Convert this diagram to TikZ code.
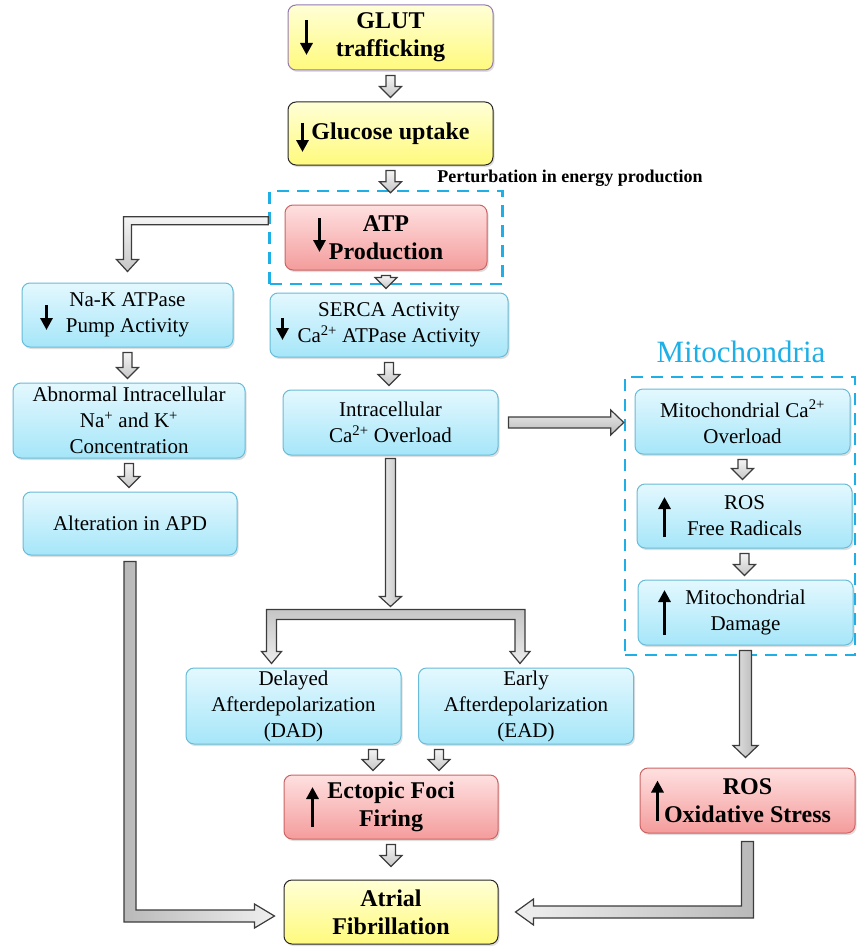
\documentclass[tikz,border=0pt]{standalone}
\usepackage{fontspec}
\setmainfont{Liberation Serif}
\usetikzlibrary{arrows.meta,calc,fit,shadows}

\definecolor{cyantop}{RGB}{228,248,254}
\definecolor{cyanbot}{RGB}{165,230,249}
\definecolor{cyanedge}{RGB}{104,188,216}
\definecolor{redtop}{RGB}{255,224,224}
\definecolor{redbot}{RGB}{244,156,156}
\definecolor{rededge}{RGB}{205,100,100}
\definecolor{yellowtop}{RGB}{255,255,214}
\definecolor{yellowbot}{RGB}{255,250,125}
\definecolor{yellowedge}{RGB}{40,40,40}
\definecolor{glutedge}{RGB}{150,120,180}
\definecolor{zoneblue}{RGB}{30,175,230}
\definecolor{arrowedge}{RGB}{60,60,60}

\newcommand{\regtext}{\fontsize{21}{26}\selectfont}
\newcommand{\boldtext}{\fontsize{24}{28}\selectfont\bfseries}

% small hollow arrow straight down, x taken from #1
\newcommand{\smalldown}[2]{%
  \path[blockarrow] let \p1=(#1), \p2=(#2) in
    (\x1-4.5pt,\y1-5pt) -- (\x1+4.5pt,\y1-5pt) -- (\x1+4.5pt,\y2+15pt)
    -- (\x1+11pt,\y2+15pt) -- (\x1,\y2+4pt) -- (\x1-11pt,\y2+15pt)
    -- (\x1-4.5pt,\y2+15pt) -- cycle;}

% wide hollow arrow straight down
\newcommand{\bigdown}[2]{%
  \path[blockarrow, left color=gray!20, right color=gray!60] let \p1=(#1), \p2=(#2) in
    (\x1-6pt,\y1-5pt) -- (\x1+6pt,\y1-5pt) -- (\x1+6pt,\y2+22pt)
    -- (\x1+12.5pt,\y2+22pt) -- (\x1,\y2+10pt) -- (\x1-12.5pt,\y2+22pt)
    -- (\x1-6pt,\y2+22pt) -- cycle;}

\begin{document}
\begin{tikzpicture}[
        x=1pt, y=-1pt,
        boxsize/.style 2 args={minimum width=#1pt, minimum height=#2pt},
        basebox/.style={rounded corners=8pt, line width=1pt, inner sep=0pt, align=center,
            drop shadow={opacity=0.25, shadow xshift=1.5pt, shadow yshift=-2pt}},
        cyanbox/.style={basebox, draw=cyanedge, top color=cyantop, bottom color=cyanbot, font=\regtext},
        redbox/.style={basebox, draw=rededge, top color=redtop, bottom color=redbot, font=\boldtext},
        yellowbox/.style={basebox, draw=yellowedge, top color=yellowtop, bottom color=yellowbot, font=\boldtext},
        zone/.style={draw=zoneblue, line width=2.5pt, dash pattern=on 12pt off 8pt, rectangle},
        blockarrow/.style={draw=arrowedge, line width=1.2pt, top color=gray!8, bottom color=gray!45},
        blockarrowh/.style={draw=arrowedge, line width=1.2pt, top color=gray!15, bottom color=gray!55},
        markarrow/.style={line width=3pt, -{Triangle[length=12pt,width=12pt]}},
    ]
    \useasboundingbox (0,0) rectangle (857,947);

    % central column
    \node[yellowbox, draw=glutedge, boxsize={205}{65}] (glut) at (390.5,37.5) {GLUT\\trafficking};
    \node[yellowbox, boxsize={205}{63}] (glucose) at (390.5,133.5) {Glucose uptake};
    \node[font=\fontsize{18}{20}\selectfont\bfseries] (perturb) at (570,178) {Perturbation in energy production};
    \node[redbox, boxsize={202}{65}] (atp) at (386,237.5) {ATP\\Production};
    \node[zone, fit=(atp), inner xsep=15pt, inner ysep=13.5pt] (atpzone) {};
    \node[cyanbox, boxsize={238}{64}] (serca) at (389,325) {SERCA Activity\\Ca\textsuperscript{2+} ATPase Activity};
    \node[cyanbox, boxsize={215}{65}] (intra) at (390.5,422.5) {Intracellular\\Ca\textsuperscript{2+} Overload};
    \node[cyanbox, boxsize={215}{76}] (dad) at (293.5,706) {Delayed\\Afterdepolarization\\(DAD)};
    \node[cyanbox, boxsize={215}{76}] (ead) at (526,706) {Early\\Afterdepolarization\\(EAD)};
    \node[redbox, boxsize={214}{64}] (ectopic) at (391,807) {Ectopic Foci\\Firing};
    \node[yellowbox, boxsize={214}{64}] (atrial) at (391,912) {Atrial\\Fibrillation};

    % left column
    \node[cyanbox, boxsize={211}{64}] (nak) at (127.5,315) {Na-K ATPase\\Pump Activity};
    \node[cyanbox, boxsize={232}{75}] (abnormal) at (129,420.5) {Abnormal Intracellular\\Na\textsuperscript{+} and K\textsuperscript{+}\\Concentration};
    \node[cyanbox, boxsize={214}{63}] (apd) at (130,523.5) {Alteration in APD};

    % mitochondria column
    \node[text=zoneblue, font=\fontsize{31}{36}\selectfont] (mitotitle) at (741,352) {Mitochondria};
    \node[cyanbox, boxsize={215}{65}] (mitoca) at (742.5,421.5) {Mitochondrial Ca\textsuperscript{2+}\\Overload};
    \node[cyanbox, boxsize={215}{64}] (rosfree) at (744.5,516) {ROS\\Free Radicals};
    \node[cyanbox, boxsize={215}{65}] (damage) at (745.5,612.5) {Mitochondrial\\Damage};
    \node[zone, fit={(625,377) (855,655)}, inner sep=0pt] (mitozone) {};
    \node[redbox, boxsize={215}{65}] (rosstress) at (747.5,800.5) {ROS\\Oxidative Stress};

    % up and down marks inside the boxes
    \draw[markarrow] ([xshift=19pt]glut.west) ++(0,-17.5) -- ++(0,35);
    \draw[markarrow] ([xshift=15pt]glucose.west) ++(0,-10.5) -- ++(0,29);
    \draw[markarrow] ([xshift=35pt]atp.west) ++(0,-19.5) -- ++(0,34);
    \draw[markarrow] ([xshift=13pt]serca.west) ++(0,-7) -- ++(0,22);
    \draw[markarrow] ([xshift=25pt]nak.west) ++(0,-10) -- ++(0,25);
    \draw[markarrow] ([xshift=28pt]rosfree.west) ++(0,21) -- ++(0,-40);
    \draw[markarrow] ([xshift=27pt]damage.west) ++(0,22.5) -- ++(0,-45);
    \draw[markarrow] ([xshift=29pt]ectopic.west) ++(0,20) -- ++(0,-40);
    \draw[markarrow] ([xshift=18pt]rosstress.west) ++(0,20) -- ++(0,-40);

    % small arrows
    \smalldown{glut.south}{glucose.north}
    \smalldown{glucose.south}{$(atpzone.north)+(0,7)$}
    \smalldown{atp.south}{serca.north}
    \smalldown{serca.south}{intra.north}
    \smalldown{nak.south}{abnormal.north}
    \smalldown{abnormal.south}{apd.north}
    \smalldown{mitoca.south}{rosfree.north}
    \smalldown{rosfree.south}{damage.north}
    \smalldown{$(dad.south -| ectopic.north)+(-18,0)$}{ectopic.north}
    \smalldown{$(ead.south -| ectopic.north)+(48,0)$}{ectopic.north}
    \smalldown{ectopic.south}{$(atrial.north)+(0,-9)$}

    % ATP zone to Na-K pump
    \path[blockarrow] let \p1=(atpzone.north west), \p2=(nak.north) in
        (\x1,\y1-27pt) -- (\x2-4pt,\y1-27pt) -- (\x2-4pt,\y2+23pt) -- (\x2-11pt,\y2+23pt)
        -- (\x2,\y2+11pt) -- (\x2+11pt,\y2+23pt) -- (\x2+4pt,\y2+23pt) -- (\x2+4pt,\y1-35pt)
        -- (\x1,\y1-35pt) -- cycle;

    % calcium overload into the mitochondria
    \path[blockarrowh] let \p1=(intra.east), \p2=(mitozone.west) in
        (\x1+10pt,\y1+5.5pt) -- (\x2-13pt,\y1+5.5pt) -- (\x2-13pt,\y1+12.5pt) -- (\x2,\y1)
        -- (\x2-13pt,\y1-12.5pt) -- (\x2-13pt,\y1-5.5pt) -- (\x1+10pt,\y1-5.5pt) -- cycle;

    % calcium overload down to the split
    \path[blockarrow, left color=gray!10, right color=gray!50] let \p1=(intra.south), \p2=(dad.north) in
        (\x1-5pt,\y1-3pt) -- (\x1+5pt,\y1-3pt) -- (\x1+5pt,\y2+71pt) -- (\x1+11pt,\y2+71pt)
        -- (\x1,\y2+61pt) -- (\x1-11pt,\y2+71pt) -- (\x1-5pt,\y2+71pt) -- cycle;

    % split into DAD and EAD
    \path[blockarrow, top color=gray!45, bottom color=gray!15] let \p2=(dad.north), \p3=(ead.north) in
        (\x2-27pt,\y2+58pt) -- (\x3-1pt,\y2+58pt) -- (\x3-1pt,\y2+16pt) -- (\x3+4pt,\y2+16pt)
        -- (\x3-6pt,\y2+4pt) -- (\x3-16pt,\y2+16pt) -- (\x3-11pt,\y2+16pt) -- (\x3-11pt,\y2+48pt)
        -- (\x2-17pt,\y2+48pt) -- (\x2-17pt,\y2+16pt) -- (\x2-12pt,\y2+16pt) -- (\x2-22pt,\y2+4pt)
        -- (\x2-32pt,\y2+16pt) -- (\x2-27pt,\y2+16pt) -- cycle;

    % mitochondrial damage to oxidative stress
    \bigdown{damage.south}{rosstress.north}

    % APD to atrial fibrillation
    \path[blockarrow, left color=gray!55, right color=gray!12] let \p1=(apd.south), \p2=(atrial.west) in
        (\x1-6pt,\y1-6pt) -- (\x1+6pt,\y1-6pt) -- (\x1+6pt,\y2+2pt) -- (\x2-29pt,\y2+2pt)
        -- (\x2-29pt,\y2+8pt) -- (\x2-9pt,\y2-4pt) -- (\x2-29pt,\y2-16pt) -- (\x2-29pt,\y2-10pt)
        -- (\x1-6pt,\y2-10pt) -- cycle;

    % oxidative stress to atrial fibrillation
    \path[blockarrow, left color=gray!12, right color=gray!55] let \p1=(rosstress.south), \p2=(atrial.east) in
        (\x1-6pt,\y1-8pt) -- (\x1+6pt,\y1-8pt) -- (\x1+6pt,\y2-6pt) -- (\x2+35pt,\y2-6pt)
        -- (\x2+35pt,\y2-13pt) -- (\x2+17pt,\y2) -- (\x2+35pt,\y2+13pt) -- (\x2+35pt,\y2+6pt)
        -- (\x1-6pt,\y2+6pt) -- cycle;

\end{tikzpicture}
\end{document}
